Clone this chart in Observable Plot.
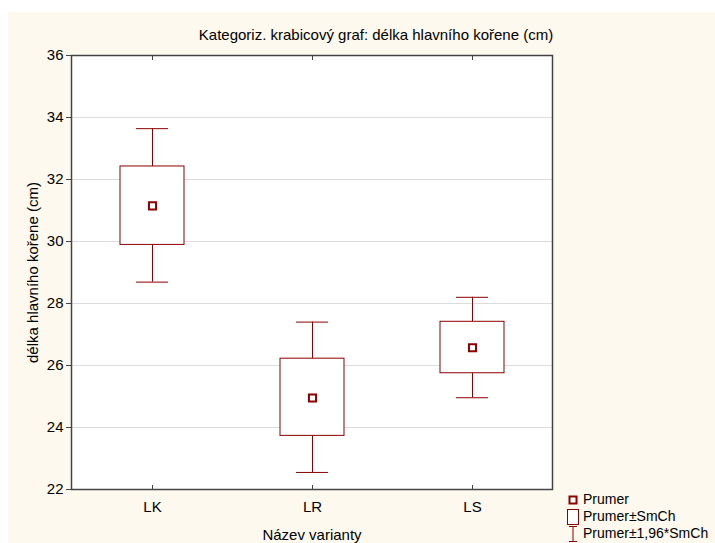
<!DOCTYPE html>
<html>
<head>
<meta charset="utf-8">
<script src="https://cdn.jsdelivr.net/npm/d3@7"></script>
<script src="https://cdn.jsdelivr.net/npm/@observablehq/plot@0.6"></script>
<style>
  html, body { margin: 0; padding: 0; background: #fff; }
  #wrap { position: relative; width: 715px; height: 543px; overflow: hidden; background: #fff;
          font-family: "Liberation Sans", Arial, sans-serif; color: #000; }
  #cream { position: absolute; left: 8px; top: 12px; right: 0; bottom: 0; background: #fdf9ef; }
  #chart { position: absolute; left: 0; top: 0; }
  #title { position: absolute; top: 26px; left: 376px; transform: translateX(-50%); font-size: 15px; line-height: 17px; white-space: nowrap; }
  #legend { position: absolute; left: 566px; top: 491px; font-size: 14px; line-height: 17px; white-space: nowrap; }
  .row { display: flex; align-items: center; height: 17px; }
  .ic { width: 14px; height: 16px; margin-right: 3px; flex: none; }
</style>
</head>
<body>
<div id="wrap">
  <div id="cream"></div>
  <div id="chart"></div>
  <div id="title">Kategoriz. krabicový graf: délka hlavního kořene (cm)</div>
  <div id="legend"></div>
</div>
<script>
const categories = ["LK", "LR", "LS"];
const means = [31.15, 24.95, 26.57];
const boxLow = [29.89, 23.73, 25.75];
const boxHigh = [32.42, 26.22, 27.41];
const whiskerLow = [28.69, 22.55, 24.96];
const whiskerHigh = [33.64, 27.40, 28.20];
const yTicks = [22, 24, 26, 28, 30, 32, 34, 36];
const legendLabels = ["Prumer", "Prumer±SmCh", "Prumer±1,96*SmCh"];

const red = "#8b0000";
const data = categories.map((c, i) => ({
  cat: c, mean: means[i], bLow: boxLow[i], bHigh: boxHigh[i], wLow: whiskerLow[i], wHigh: whiskerHigh[i]
}));

const chart = Plot.plot({
  width: 715, height: 543,
  marginLeft: 71, marginRight: 163, marginTop: 55, marginBottom: 54,
  style: { background: "transparent", fontFamily: "'Liberation Sans', Arial, sans-serif", fontSize: "15px", color: "#000" },
  x: { type: "band", domain: categories, padding: 0 },
  y: { domain: [22, 36] },
  marks: [
    Plot.frame({ fill: "white", stroke: "none" }),
    Plot.gridY(yTicks.slice(1, -1), { stroke: "#dcdcdc", strokeOpacity: 1 }),
    Plot.ruleX(data, { x: "cat", y1: "wLow", y2: "bLow", stroke: red }),
    Plot.ruleX(data, { x: "cat", y1: "bHigh", y2: "wHigh", stroke: red }),
    Plot.tickY(data, { x: "cat", y: "wLow", insetLeft: 64, insetRight: 64, stroke: red }),
    Plot.tickY(data, { x: "cat", y: "wHigh", insetLeft: 64, insetRight: 64, stroke: red }),
    Plot.barY(data, { x: "cat", y1: "bLow", y2: "bHigh", fill: "white", stroke: red, insetLeft: 48, insetRight: 48 }),
    Plot.dot(data, { x: "cat", y: "mean", symbol: "square", r: 4, stroke: red, strokeWidth: 2, fill: "white" }),
    Plot.axisY({ ticks: yTicks, tickSize: 5, tickPadding: 3, stroke: "#444", fontSize: 15,
      label: "délka hlavního kořene (cm)", labelAnchor: "center", labelArrow: "none", labelOffset: 44 }),
    Plot.axisX({ tickSize: -4, tickPadding: 16, stroke: "#444", fontSize: 15,
      label: "Název varianty", labelAnchor: "center", labelArrow: "none", labelOffset: 50 }),
    Plot.axisX({ anchor: "top", tickSize: -4, tickFormat: () => "", label: null, stroke: "#444" }),
    Plot.frame({ stroke: "#444", strokeWidth: 1.5 })
  ]
});
document.getElementById("chart").appendChild(chart);

// legend
const icons = [
  `<svg class="ic" viewBox="0 0 14 16"><rect x="3.5" y="4.5" width="7" height="7" fill="white" stroke="${red}" stroke-width="2"/></svg>`,
  `<svg class="ic" viewBox="0 0 14 16"><rect x="1.5" y="0.5" width="11" height="15" fill="white" stroke="${red}" stroke-width="1"/></svg>`,
  `<svg class="ic" viewBox="0 0 14 16"><path d="M3 0.5H11M7 0.5V15.5M3 15.5H11" fill="none" stroke="${red}" stroke-width="1"/></svg>`
];
document.getElementById("legend").innerHTML = legendLabels.map((l, i) =>
  `<div class="row">${icons[i]}<span>${l}</span></div>`).join("");
</script>
</body>
</html>
